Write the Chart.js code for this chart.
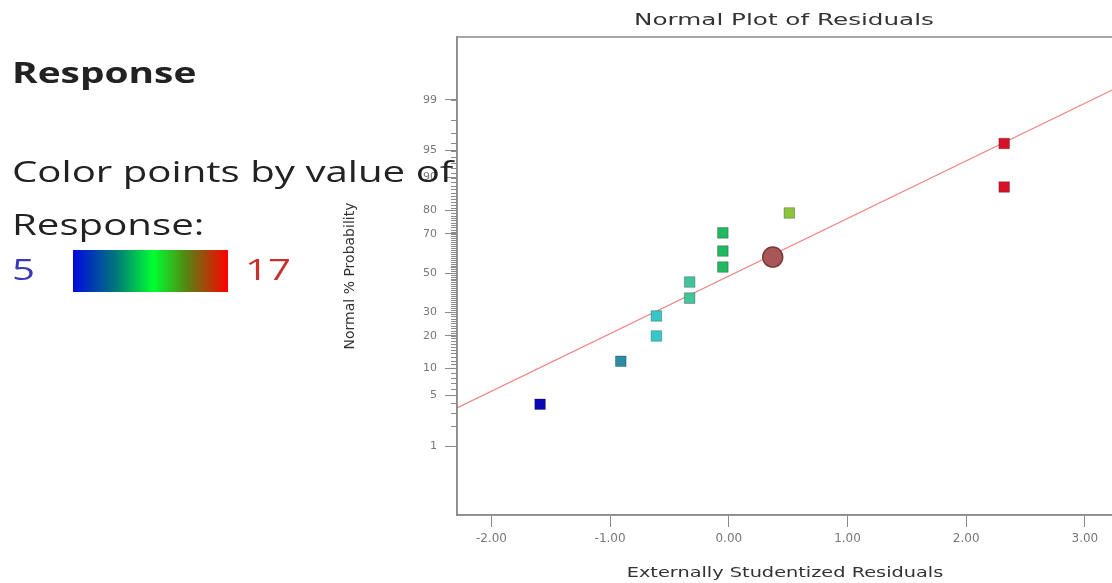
<!DOCTYPE html>
<html>
<head>
<meta charset="utf-8">
<script src="https://cdn.jsdelivr.net/npm/chart.js@4.4.0/dist/chart.umd.min.js"></script>
<style>
    html, body { margin: 0; padding: 0; background: #fff; overflow: hidden; }
    #wrap { position: relative; width: 1132px; height: 583px; overflow: hidden; }
    #grafico { position: absolute; left: 0; top: 0; }
    .txt { position: absolute; font-family: "Open Sans", sans-serif; color: #222; white-space: nowrap; z-index: 2;
        transform-origin: left top; transform: scaleX(1.34); }
    .tit { position: absolute; font-family: "DejaVu Sans", sans-serif; color: #333; white-space: nowrap; z-index: 2;
        width: 500px; text-align: center; transform-origin: 50% 50%; }
    #barra { position: absolute; left: 73px; top: 250px; width: 155px; height: 42px; z-index: 2;
        background: linear-gradient(to right, #0008e0 0%, #007a78 28%, #00ff30 52%, #5a8010 74%, #ff0000 100%); }
</style>
</head>
<body>
<div id="wrap">
    <canvas id="grafico" width="1132" height="583"></canvas>
    <div class="txt" style="left:12px; top:52px; font-size:29px; font-weight:bold;">Response</div>
    <div class="txt" style="left:12px; top:150px; font-size:30px;">Color points by value of</div>
    <div class="txt" style="left:12px; top:203px; font-size:30px;">Response:</div>
    <div class="txt" style="left:12px; top:248px; font-size:30px; color:#3a3ab8;">5</div>
    <div id="barra"></div>
    <div class="txt" style="left:245px; top:248px; font-size:30px; color:#c8302c;">17</div>
    <div class="tit" style="left:534px; top:10px; font-size:16px; line-height:20px; transform:scaleX(1.54);">Normal Plot of Residuals</div>
    <div class="tit" style="left:535px; top:563px; font-size:14px; line-height:18px; transform:scaleX(1.38);">Externally Studentized Residuals</div>
</div>
<script>
// residuos estudentizados (eje x) y probabilidad normal en % (eje y)
const residuos = [-1.59, -0.91, -0.61, -0.61, -0.33, -0.33, -0.05, -0.05, -0.05, 0.51, 2.32, 2.32];
const probabilidades = [3.9, 11.8, 19.9, 28.2, 36.8, 45.2, 53.2, 61.6, 70.5, 79.0, 87.6, 95.9];
const coloresPuntos = ['#0a0ab4', '#2e8ca2', '#36c8c8', '#36c8c8', '#44c49c', '#44c49c',
    '#22b862', '#22b862', '#22b862', '#8cc43c', '#d8102a', '#d8102a'];

// punto resaltado (circulo)
const resaltadoX = [0.37];
const resaltadoP = [58.5];

// recta de referencia
const rectaX = [-2.29, 3.30];
const rectaP = [3.5, 99.4];

// marcas del eje
const ticksX = [-2, -1, 0, 1, 2, 3];
const ticksY = [1, 5, 10, 20, 30, 50, 70, 80, 90, 95, 99];
const etiquetasY = ['1', '5', '10', '20', '30', '50', '70', '80', '90', '95', '99'];
const ticksMenores = Array.from({ length: 99 }, (_, i) => i + 1);

// inversa de la normal (Acklam)
function probit(p) {
    const a = [-3.969683028665376e+01, 2.209460984245205e+02, -2.759285104469687e+02, 1.383577518672690e+02, -3.066479806614716e+01, 2.506628277459239e+00];
    const b = [-5.447609879822406e+01, 1.615858368580409e+02, -1.556989798598866e+02, 6.680131188771972e+01, -1.328068155288572e+01];
    const c = [-7.784894002430293e-03, -3.223964580411365e-01, -2.400758277161838e+00, -2.549732539343734e+00, 4.374664141464968e+00, 2.938163982698783e+00];
    const d = [7.784695709041462e-03, 3.224671290700398e-01, 2.445134137142996e+00, 3.754408661907416e+00];
    const pl = 0.02425;
    let q, r;
    if (p < pl) {
        q = Math.sqrt(-2 * Math.log(p));
        return (((((c[0]*q+c[1])*q+c[2])*q+c[3])*q+c[4])*q+c[5]) / ((((d[0]*q+d[1])*q+d[2])*q+d[3])*q+1);
    }
    if (p > 1 - pl) {
        q = Math.sqrt(-2 * Math.log(1 - p));
        return -(((((c[0]*q+c[1])*q+c[2])*q+c[3])*q+c[4])*q+c[5]) / ((((d[0]*q+d[1])*q+d[2])*q+d[3])*q+1);
    }
    q = p - 0.5; r = q * q;
    return (((((a[0]*r+a[1])*r+a[2])*r+a[3])*r+a[4])*r+a[5])*q / (((((b[0]*r+b[1])*r+b[2])*r+b[3])*r+b[4])*r+1);
}

const z = pct => probit(pct / 100);

const marcoPlugin = {
    id: 'marco',
    afterDraw(chart) {
        const { ctx, chartArea } = chart;
        const y = chart.scales.y;
        ctx.save();
        ctx.strokeStyle = '#8a8a8a';
        ctx.lineWidth = 1;
        ctx.beginPath();
        ticksMenores.forEach(p => {
            const py = Math.round(y.getPixelForValue(z(p))) + 0.5;
            ctx.moveTo(chartArea.left - 6, py);
            ctx.lineTo(chartArea.left, py);
        });
        ctx.stroke();
        ctx.lineWidth = 1.5;
        ctx.strokeRect(chartArea.left, chartArea.top, chartArea.right - chartArea.left, chartArea.bottom - chartArea.top);
        ctx.restore();
    }
};

document.addEventListener('DOMContentLoaded', function() {
    const ctx = document.getElementById('grafico').getContext('2d');

    window.graficaResiduos = new Chart(ctx, {
        type: 'scatter',
        data: {
            datasets: [
                {
                    label: 'Recta',
                    type: 'line',
                    data: rectaX.map((x, i) => ({ x: x, y: z(rectaP[i]) })),
                    borderColor: '#f08484',
                    borderWidth: 1.3,
                    pointRadius: 0,
                    fill: false,
                    order: 3
                },
                {
                    label: 'Residuos',
                    data: residuos.map((x, i) => ({ x: x, y: z(probabilidades[i]) })),
                    pointStyle: 'rect',
                    pointRadius: 7.5,
                    pointHoverRadius: 7.5,
                    backgroundColor: coloresPuntos,
                    borderColor: 'rgba(0,0,0,0.25)',
                    borderWidth: 1,
                    order: 2
                },
                {
                    label: 'Resaltado',
                    data: resaltadoX.map((x, i) => ({ x: x, y: z(resaltadoP[i]) })),
                    pointStyle: 'circle',
                    pointRadius: 10,
                    backgroundColor: '#a85656',
                    borderColor: '#7e3a3a',
                    borderWidth: 1.5,
                    order: 1
                }
            ]
        },
        options: {
            responsive: false,
            animation: false,
            layout: { padding: { left: 337, right: 2, top: 37, bottom: 0 } },
            plugins: {
                legend: { display: false },
                tooltip: { enabled: false },
                title: { display: false }
            },
            scales: {
                x: {
                    type: 'linear',
                    min: -2.29,
                    max: 3.30,
                    afterBuildTicks: s => { s.ticks = ticksX.map(v => ({ value: v })); },
                    afterFit: s => { s.height = 68; s.paddingLeft = 0; s.paddingRight = 0; },
                    ticks: {
                        color: '#777',
                        font: { family: 'DejaVu Sans', size: 12 },
                        padding: 5,
                        callback: v => v.toFixed(2)
                    },
                    grid: { drawOnChartArea: false, tickLength: 12, color: '#8a8a8a' },
                    border: { display: true, color: '#8a8a8a', width: 1.5 }
                },
                y: {
                    type: 'linear',
                    min: -3.25,
                    max: 3.17,
                    afterBuildTicks: s => { s.ticks = ticksY.map(p => ({ value: z(p) })); },
                    afterFit: s => { s.width = 120; s.paddingTop = 0; s.paddingBottom = 0; },
                    ticks: {
                        color: '#777',
                        font: { family: 'DejaVu Sans', size: 11 },
                        padding: 8,
                        callback: (v, i) => etiquetasY[i]
                    },
                    grid: { drawOnChartArea: false, tickLength: 12, color: '#8a8a8a' },
                    border: { display: true, color: '#8a8a8a', width: 1.5 },
                    title: {
                        display: true,
                        text: 'Normal % Probability',
                        color: '#333',
                        font: { family: 'DejaVu Sans', size: 14 },
                        padding: { top: 5, bottom: 0 }
                    }
                }
            }
        },
        plugins: [marcoPlugin]
    });
});
</script>
</body>
</html>
